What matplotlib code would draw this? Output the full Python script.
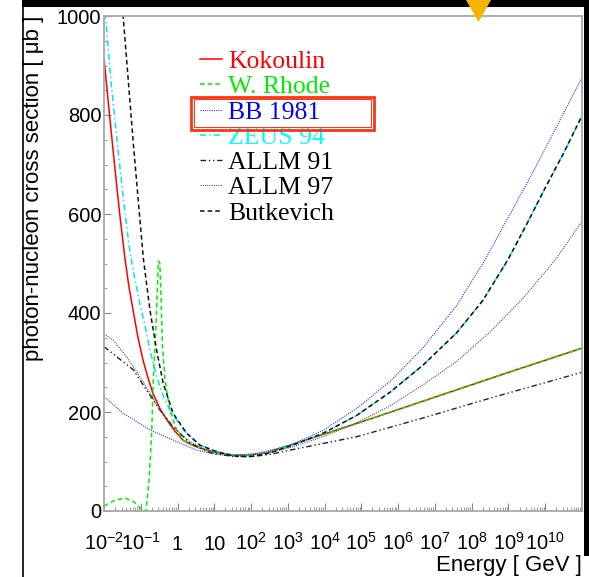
import numpy as np
import matplotlib.pyplot as plt
from matplotlib.patches import Rectangle, Polygon
from matplotlib.lines import Line2D
from matplotlib.ticker import FixedLocator, MultipleLocator, NullFormatter

plt.rcParams['font.family'] = 'Liberation Sans'
plt.rcParams['mathtext.default'] = 'regular'

# curves: log10(E/GeV) and cross section in microbarn
kokoulin_logE = [-2.0, -1.85, -1.7, -1.57, -1.43, -1.32, -1.21, -1.08, -0.94, -0.8, -0.67, -0.48, -0.29,
                 -0.07, 0.15, 0.38, 0.61, 1.07, 1.51, 1.97, 2.43, 2.98, 5.0, 7.0, 9.0, 11.0]
kokoulin = [915, 800, 690, 598, 510, 452, 406, 352, 305, 268, 238, 207, 184,
            161, 143, 134, 127, 118, 113, 113, 118, 131, 180, 230, 280, 329]

rhode_logE = [-2.0, -1.7, -1.43, -1.21, -1.0, -0.94, -0.86, -0.77, -0.70, -0.66, -0.59, -0.54, -0.52,
              -0.48, -0.45, -0.41, -0.34, -0.21, -0.03, 0.15, 0.38, 0.61, 1.07, 1.51, 1.97, 2.43, 2.98,
              5.0, 7.0, 9.0, 11.0]
rhode = [10, 22, 26, 20, 5, 0, 0, 66, 164, 265, 366, 467, 505,
         500, 433, 332, 265, 204, 164, 143, 134, 127, 118, 113, 113, 118, 131,
         180, 230, 280, 329]

bb_logE = [-2.0, -1.47, -0.75, -0.11, 0.52, 1.07, 1.6, 2.2, 3.06, 3.96, 4.87, 5.78, 6.68, 7.59, 8.36,
           9.67, 10.99]
bb = [231, 197, 164, 143, 123, 114, 112, 117, 133, 163, 207, 262, 330, 415, 507, 685, 874]

zeus_logE = [-2.0, -1.95, -1.8, -1.62, -1.45, -1.29, -1.15, -1.02, -0.88, -0.75, -0.62, -0.48, -0.35,
             -0.21, 0.16, 0.61, 1.07, 1.51, 2.0, 2.5, 3.06, 3.96, 4.87, 5.78, 6.68, 7.59, 8.3, 8.98,
             9.5, 9.98, 10.5, 10.99]
zeus = [1040, 990, 860, 730, 615, 520, 465, 418, 372, 325, 286, 251, 225,
        204, 164, 133, 120, 113, 112, 118, 131, 157, 193, 240, 295, 360, 425, 507,
        580, 650, 723, 797]

allm91_logE = [-2.0, -1.66, -1.20, -0.84, -0.48, -0.12, 0.34, 0.88, 1.51, 2.0, 2.5, 3.06, 4.87, 6.68,
               8.50, 10.99]
allm91 = [332, 312, 285, 244, 204, 170, 137, 118, 110, 110, 114, 123, 150, 188, 228, 280]

allm97_logE = [-2.0, -1.75, -1.39, -1.02, -0.75, -0.48, -0.12, 0.34, 0.88, 1.51, 2.0, 2.5,
               3.06, 3.96, 4.87, 5.78, 6.68, 7.59, 8.50, 9.40, 10.27, 10.99]
allm97 = [358, 345, 312, 271, 238, 204, 170, 140, 120, 113, 113, 118,
          128, 150, 178, 212, 255, 302, 362, 430, 507, 584]

butk_logE = [-1.55, -1.48, -1.2, -0.93, -0.75, -0.57, -0.39, -0.12, 0.25, 0.61, 1.06, 1.51, 2.0, 2.5,
             3.06, 3.96, 4.87, 5.78, 6.68, 7.59, 8.3, 8.98, 9.5, 9.98, 10.5, 10.99]
butk = [1090, 1000, 740, 510, 406, 325, 258, 197, 157, 133, 120, 111, 110, 117,
        131, 157, 193, 240, 295, 360, 425, 507, 580, 650, 723, 797]

xtick_exp = list(range(-2, 11))
xtick_labels = ['$10^{-2}$', '$10^{-1}$', '1', '10'] + ['$10^{%d}$' % e for e in range(2, 11)]

W, H = 589, 577
fig = plt.figure(figsize=(W / 100, H / 100), dpi=100)
ax = fig.add_axes([104 / W, 1 - 511 / H, (582 - 104) / W, (511 - 16) / H])

ax.plot(10.0 ** np.array(kokoulin_logE), kokoulin, color='#ff0000', lw=1.1, label='Kokoulin')
ax.plot(10.0 ** np.array(rhode_logE), rhode, color='#00ee00', lw=1.1, ls=(0, (3, 2)), label='W. Rhode')
ax.plot(10.0 ** np.array(bb_logE), bb, color='#3333ff', lw=0.8, ls=(0, (1, 1)), label='BB 1981')
ax.plot(10.0 ** np.array(zeus_logE), zeus, color='#00e5ff', lw=1.1, ls=(0, (4, 2, 1, 2)), label='ZEUS 94')
ax.plot(10.0 ** np.array(allm91_logE), allm91, color='#222222', lw=1.0, ls=(0, (4, 2, 1, 2, 1, 2)), label='ALLM 91')
ax.plot(10.0 ** np.array(allm97_logE), allm97, color='#555555', lw=0.8, ls=(0, (1, 1)), label='ALLM 97')
ax.plot(10.0 ** np.array(butk_logE), butk, color='#111111', lw=1.1, ls=(0, (3, 2)), label='Butkevich')

ax.set_xscale('log')
ax.set_xlim(1e-2, 1e11)
ax.set_ylim(0, 1000)

ax.xaxis.set_major_locator(FixedLocator([10.0 ** e for e in xtick_exp]))
ax.xaxis.set_minor_locator(FixedLocator([m * 10.0 ** e for e in range(-2, 11) for m in range(2, 10)]))
ax.xaxis.set_minor_formatter(NullFormatter())
ax.set_xticklabels(xtick_labels)
ax.yaxis.set_major_locator(MultipleLocator(200))
ax.yaxis.set_minor_locator(MultipleLocator(50))

ax.tick_params(which='both', direction='in', color='#888888', labelsize=14.5)
ax.tick_params(axis='y', which='major', length=5, pad=2)
ax.tick_params(axis='y', which='minor', length=2.5)
ax.tick_params(axis='x', which='major', length=6, pad=28)
ax.tick_params(axis='x', which='minor', length=3)
for t in ax.xaxis.get_major_ticks():
    t.label1.set_verticalalignment('baseline')

for s in ax.spines.values():
    s.set_color('#a8a8a8')
    s.set_linewidth(1.3)

ax.set_ylabel('photon-nucleon cross section [ μb ]', fontsize=16, loc='top')
ax.yaxis.set_label_coords(-0.126, 1.0)
ax.set_xlabel('Energy [ GeV ]', fontsize=16, loc='right')
ax.xaxis.set_label_coords(1.0, -0.089)

leg = ax.legend(loc='upper left', bbox_to_anchor=(200 / W, 1 - 50 / H), bbox_transform=fig.transFigure,
                frameon=False, prop={'family': 'Liberation Serif', 'size': 18.5},
                handlelength=0.86, handletextpad=0.23, labelspacing=0.09, borderpad=0, borderaxespad=0)
for txt, c in zip(leg.get_texts(), ['#ff0000', '#00ee00', '#0000ff', '#00ffff', 'black', 'black', 'black']):
    txt.set_color(c)


def px(x, y):
    return (x / W, 1 - y / H)


# page decorations around the chart
fig.add_artist(Rectangle(px(22, 7), (W - 22) / W, 7 / H, transform=fig.transFigure, color='black', lw=0))
fig.add_artist(Line2D([22.5 / W, 22.5 / W], [0, 1], transform=fig.transFigure, color='black', lw=1.2))
fig.add_artist(Rectangle(px(584, 556), 5 / W, 556 / H, transform=fig.transFigure, color='black', lw=0))
fig.add_artist(Polygon([px(466, 0), px(491, 0), px(478.5, 22)], closed=True, transform=fig.transFigure,
                       color='#f5b400', lw=0))
fig.add_artist(Rectangle(px(190.5, 129.5), 183 / W, 33 / H, transform=fig.transFigure,
                         fill=False, ec='#ff3311', lw=2.0))
fig.add_artist(Rectangle(px(193.5, 126.5), 177 / W, 27 / H, transform=fig.transFigure,
                         fill=False, ec='#ff3311', lw=0.7))

fig.savefig('out.png', dpi=100)
